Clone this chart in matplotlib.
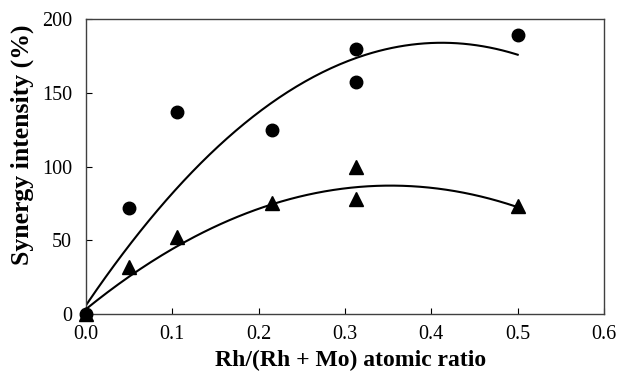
import numpy as np
import matplotlib.pyplot as plt

plt.rcParams['font.family'] = ['Liberation Serif', 'DejaVu Serif']

# donnees
x_cercles = [0.0, 0.05, 0.105, 0.215, 0.313, 0.313, 0.5]
y_cercles = [0, 72, 137, 125, 180, 157, 189]

x_triangles = [0.0, 0.05, 0.105, 0.215, 0.313, 0.313, 0.5]
y_triangles = [0, 32, 52, 75, 100, 78, 73]

# courbes de tendance
x_courbe = [0.0, 0.1, 0.2, 0.3, 0.4, 0.5]
y_courbe_cercles = [5, 83, 138, 170, 182, 177]
y_courbe_triangles = [3, 45, 71, 84, 87, 72]

fig = plt.figure(figsize=(6.17, 3.74), dpi=100)
ax = fig.add_axes([0.1394, 0.1604, 0.8396, 0.7886])

# tendances polynomiales (ordre 2)
xx = np.linspace(0, 0.5, 200)
for ys in [y_courbe_cercles, y_courbe_triangles]:
    coef = np.polyfit(x_courbe, ys, 2)
    ax.plot(xx, np.polyval(coef, xx), color='black', lw=1.5)

ax.plot(x_cercles, y_cercles, 'o', color='black', ms=9, clip_on=False, zorder=3)
ax.plot(x_triangles, y_triangles, '^', color='black', ms=9.5, clip_on=False, zorder=3)

ax.set_xlim(0, 0.6)
ax.set_ylim(0, 200)
ax.set_xticks(np.arange(0, 0.61, 0.1))
ax.set_xticklabels(['0.0', '0.1', '0.2', '0.3', '0.4', '0.5', '0.6'])
ax.set_yticks([0, 50, 100, 150, 200])
ax.tick_params(direction='in', length=4, labelsize=14.5, width=0.8, pad=8)
ax.tick_params(axis='y', pad=10)
for s in ax.spines.values():
    s.set_linewidth(1.0)
    s.set_color('#404040')

ax.set_xlabel('Rh/(Rh + Mo) atomic ratio', fontsize=17, fontweight='bold')
ax.set_ylabel('Synergy intensity (%)', fontsize=18.5, fontweight='bold')
ax.xaxis.set_label_coords(0.51, -0.122)
ax.yaxis.set_label_coords(-0.101, 0.573)

fig.savefig('out.png', dpi=100)
